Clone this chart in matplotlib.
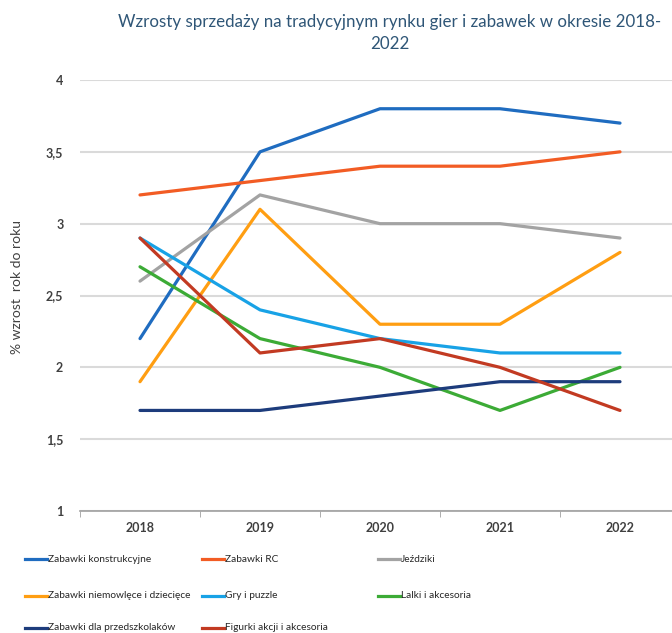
import matplotlib
matplotlib.use("Agg")
import matplotlib.pyplot as plt
from matplotlib.lines import Line2D
from matplotlib.ticker import FuncFormatter, FixedLocator

years = ["2018", "2019", "2020", "2021", "2022"]
series_names = [
    "Zabawki konstrukcyjne", "Zabawki RC", "Jeździki",
    "Zabawki niemowlęce i dziecięce", "Gry i puzzle", "Lalki i akcesoria",
    "Zabawki dla przedszkolaków", "Figurki akcji i akcesoria",
]
konstrukcyjne = [2.2, 3.5, 3.8, 3.8, 3.7]
rc = [3.2, 3.3, 3.4, 3.4, 3.5]
jezdziki = [2.6, 3.2, 3.0, 3.0, 2.9]
niemowlece = [1.9, 3.1, 2.3, 2.3, 2.8]
gry_puzzle = [2.9, 2.4, 2.2, 2.1, 2.1]
lalki = [2.7, 2.2, 2.0, 1.7, 2.0]
przedszkolaki = [1.7, 1.7, 1.8, 1.9, 1.9]
figurki = [2.9, 2.1, 2.2, 2.0, 1.7]
values = [konstrukcyjne, rc, jezdziki, niemowlece, gry_puzzle, lalki, przedszkolaki, figurki]
colors = ["#1F6CC0", "#F25C24", "#A3A3A3", "#FF9E12", "#18A2E6", "#3CAB36", "#1D3C7C", "#C23A22"]

plt.rcParams['font.family'] = ['Lato', 'DejaVu Sans']

W, H = 672, 633
fig = plt.figure(figsize=(W / 100, H / 100), dpi=100)
ax = fig.add_axes([80 / W, 1 - 511 / H, 600 / W, 431 / H])

x = list(range(len(years)))
for name, vals, c in zip(series_names, values, colors):
    ax.plot(x, vals, color=c, lw=2.3, solid_capstyle='round', zorder=3)

ax.set_xlim(-0.5, 4.5)
ax.set_ylim(1, 4)
ax.set_yticks([1, 1.5, 2, 2.5, 3, 3.5, 4])
ax.yaxis.set_major_formatter(FuncFormatter(lambda v, p: ("%g" % v).replace(".", ",")))
ax.grid(axis='y', color='#DADADA', lw=1.5, zorder=0)
ax.set_xticks(x)
ax.set_xticklabels(years, fontsize=9, fontweight='bold', color='#404040')
ax.xaxis.set_minor_locator(FixedLocator([-0.5, 0.5, 1.5, 2.5, 3.5, 4.5]))
ax.tick_params(axis='x', which='major', length=0, pad=8)
ax.tick_params(axis='x', which='minor', length=4, color='#A0A0A0', direction='out')
ax.tick_params(axis='y', length=0, pad=12, labelsize=9, labelcolor='#404040')
for lab in ax.get_yticklabels():
    lab.set_fontweight('bold')
for s in ['top', 'right', 'left']:
    ax.spines[s].set_visible(False)
ax.spines['bottom'].set_color('#A0A0A0')
ax.spines['bottom'].set_linewidth(1.2)

ax.set_ylabel("% wzrost  rok do roku", fontsize=10, color='#404040')
ax.yaxis.set_label_coords(-57 / 600, 0.52)

fig.text(390 / W, 1 - 22 / H, "Wzrosty sprzedaży na tradycyjnym rynku gier i zabawek w okresie 2018-",
         ha='center', va='center', fontsize=12.2, color='#2F5677')
fig.text(390 / W, 1 - 44 / H, "2022", ha='center', va='center', fontsize=12.2, color='#2F5677')

col_x = [25, 202, 378]
row_y = [559, 596, 628]
for i, (name, c) in enumerate(zip(series_names, colors)):
    r, cidx = divmod(i, 3)
    x0 = col_x[cidx]
    yy = 1 - row_y[r] / H
    fig.add_artist(Line2D([x0 / W, (x0 + 22) / W], [yy, yy], color=c, lw=2.3, transform=fig.transFigure))
    fig.text((x0 + 23) / W, yy, name, ha='left', va='center', fontsize=7.3, color='#262626')

fig.savefig("out.png", dpi=100)
